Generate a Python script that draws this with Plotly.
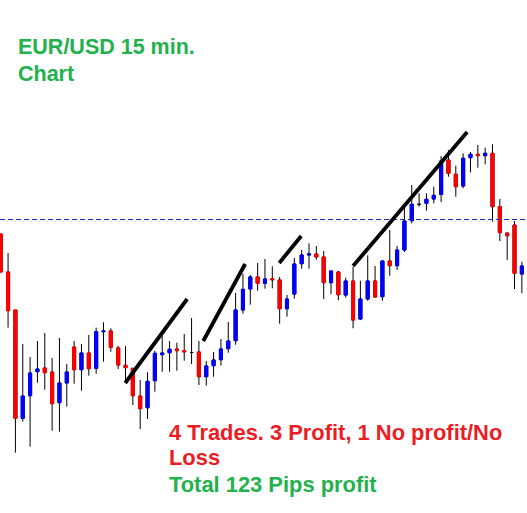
import plotly.graph_objects as go

# ---- data (price levels, arbitrary units) ----
candle_index = list(range(72))
opens = [279, 241, 203, 94.7, 117.3, 141.3, 145, 141, 110.3, 130, 166, 143.3, 160, 144.7, 181.3, 182,
         165, 147.7, 144.7, 117, 105.3, 132.3, 158.3, 160.3, 164, 162.3, 160.5, 161, 136.3, 147.3, 153.3, 164.3,
         172.3, 203, 224, 236, 229.7, 234.3, 233, 204.3, 219, 249.3, 258, 259, 256, 230.3, 241, 218,
         232, 194, 214, 232, 216.3, 252, 247.3, 263, 292.3, 308.7, 309.7, 314, 318.5, 353, 338.7, 327,
         355.3, 358.7, 357.3, 359.7, 306.3, 280, 288, 239]
highs = [279, 260, 203, 169, 156, 172, 180, 155, 175, 149, 172, 169, 178, 185.3, 190.7, 184.7,
         167, 167, 145, 133, 140.7, 162.3, 177, 172, 170.3, 179, 195, 172, 152, 161, 174, 191,
         220, 239.3, 238, 250, 254, 246.7, 236, 218, 255, 263, 269.7, 267, 262, 242.3, 242, 235.3,
         246.3, 232.3, 257.7, 247, 252, 283, 267, 306.3, 328, 319.7, 319.7, 326.3, 357, 363, 347.3, 359.7,
         361, 368, 365.3, 368.7, 314, 280, 292, 251.3]
lows = [241, 185.3, 60.3, 91.3, 66.3, 130.3, 123.3, 82.3, 81.3, 106.3, 129.3, 122.3, 137.3, 139.3, 151.3, 161.3,
        144, 133, 108, 84, 94, 121.3, 141.3, 141.3, 142.3, 152.3, 149, 128, 127.3, 136.3, 147.3, 160.3,
        168.3, 199.3, 208.3, 222.3, 224.3, 224.7, 189.3, 196.3, 214.3, 244.3, 244.3, 253.3, 214, 218.7, 212.7, 215.3,
        184.7, 193, 212.3, 215.3, 212.3, 237.3, 243, 261, 289.7, 306.3, 302.3, 309.7, 311, 336.3, 316.3, 324.7,
        340.7, 345.3, 348.7, 291.3, 272, 253, 224, 219.7]
closes = [241, 202.3, 94.7, 117, 140, 144, 140.3, 109.3, 130, 141, 143.3, 160, 144.3, 181.3, 182, 165.7,
          148, 145.3, 117.3, 104.3, 131.7, 159.7, 160, 163.7, 162.3, 161.3, 160.5, 136.3, 147, 153, 164, 172,
          203, 223.7, 236, 229.7, 234, 233.3, 204.3, 214, 249, 258, 259, 256, 230.3, 242, 218.3, 232,
          193, 214, 232, 216, 252, 247.3, 263, 292, 308.7, 308.7, 313.7, 317.7, 352, 339.7, 326.3, 354.7,
          358.7, 357.3, 359.7, 306.3, 280.3, 277.3, 239.7, 247]

# horizontal reference level
ref_level = 293.5

# hand-drawn trend lines: (start index, start price, end index, end price)
trend_x0 = [16.96, 27.59, 37.94, 48.0]
trend_y0 = [130, 172, 250, 247]
trend_x1 = [25.4, 33.3, 40.94, 63.55]
trend_y1 = [214, 249, 277, 381]

title_lines = ["EUR/USD 15 min.", "Chart"]
note_lines = ["4 Trades. 3 Profit, 1 No profit/No", "Loss", "Total 123 Pips profit"]

BLUE = "#0000ff"
RED = "#ff0000"
GREEN = "#22b14c"
TRED = "#ed1c24"

# body trace: doji candles (open == close) are left to the black wick trace
b_open, b_close, b_high, b_low = [], [], [], []
for o, c in zip(opens, closes):
    if o == c:
        b_open.append(None); b_close.append(None); b_high.append(None); b_low.append(None)
    else:
        b_open.append(o); b_close.append(c); b_high.append(max(o, c)); b_low.append(min(o, c))

# dojis need a tiny body to be drawn as a flat black line
w_open = [o if o != c else o + 0.01 for o, c in zip(opens, closes)]

fig = go.Figure()
fig.add_trace(go.Candlestick(
    x=candle_index, open=w_open, high=highs, low=lows, close=closes,
    increasing=dict(line=dict(color="black", width=1), fillcolor="rgba(0,0,0,0)"),
    decreasing=dict(line=dict(color="black", width=1), fillcolor="rgba(0,0,0,0)"),
    whiskerwidth=0, hoverinfo="skip", showlegend=False))
fig.add_trace(go.Candlestick(
    x=candle_index, open=b_open, high=b_high, low=b_low, close=b_close,
    increasing=dict(line=dict(color=BLUE, width=1), fillcolor=BLUE),
    decreasing=dict(line=dict(color=RED, width=1), fillcolor=RED),
    whiskerwidth=0, hoverinfo="skip", showlegend=False))

fig.add_shape(type="line", xref="paper", yref="y", x0=0, x1=1, y0=ref_level, y1=ref_level,
              line=dict(color="#1c2ab8", width=1, dash="5px,3px"))
for xa, ya, xb, yb in zip(trend_x0, trend_y0, trend_x1, trend_y1):
    fig.add_shape(type="line", xref="x", yref="y", x0=xa, y0=ya, x1=xb, y1=yb,
                  line=dict(color="black", width=3.8))

W, H = 527, 513
FONT = "Liberation Sans, Arial, sans-serif"

def add_text(txt, xpx, ypx, color, size):
    fig.add_annotation(text="<b>" + txt + "</b>", xref="paper", yref="paper",
                       x=xpx / W, y=1 - ypx / H, xanchor="left", yanchor="middle",
                       showarrow=False, font=dict(family=FONT, size=size, color=color))

add_text(title_lines[0], 16, 47, GREEN, 21.5)
add_text(title_lines[1], 16, 74, GREEN, 21.5)
add_text(note_lines[0], 167, 432, TRED, 21.9)
add_text(note_lines[1], 167, 457, TRED, 21.9)
add_text(note_lines[2], 167, 484, GREEN, 21.9)

fig.update_layout(
    width=W, height=H, margin=dict(l=0, r=0, t=0, b=0),
    paper_bgcolor="white", plot_bgcolor="white", showlegend=False,
    boxgap=0.4,
    xaxis=dict(visible=False, range=[-0.1, 71.7], rangeslider=dict(visible=False)),
    yaxis=dict(visible=False, range=[0, 513]),
)
fig.write_html("out.html", config={"displayModeBar": False},
               post_script="document.body.style.margin='0';document.body.style.overflow='hidden';")
